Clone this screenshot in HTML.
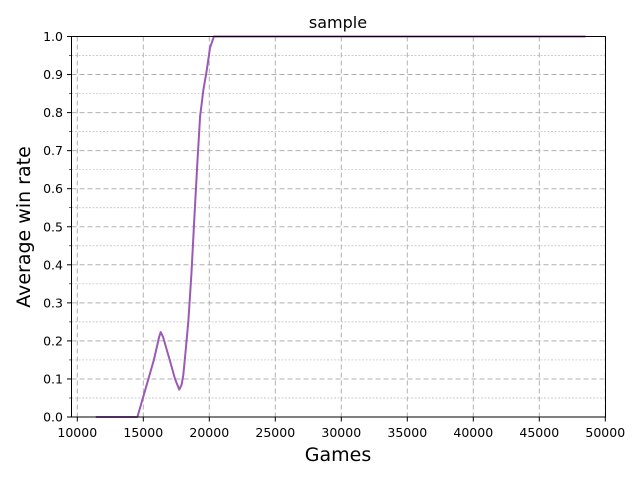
<!DOCTYPE html>
<html><head><meta charset="utf-8"><style>
body{margin:0;background:#fff}
svg{display:block;font-family:"DejaVu Sans","Liberation Sans",sans-serif}
</style></head><body>
<svg id="chart" width="640" height="480">
<rect width="640" height="480" fill="#fff"/>
<g id="grid"></g>
<g id="series"></g>
<rect x="71.5" y="36.5" width="534" height="380.5" fill="none" stroke="#000" stroke-width="1"/>
<g id="axes"></g>
<text x="338" y="28" text-anchor="middle" font-size="16">sample</text>
<text x="338" y="461" text-anchor="middle" font-size="19">Games</text>
<text transform="translate(30,227) rotate(-90)" text-anchor="middle" font-size="19">Average win rate</text>
</svg>
<script>
const games = [11400, 14550, 14800, 15300, 15800, 16200, 16320, 16500, 17000, 17400, 17730, 17900, 18030, 18200, 18410, 18650, 18860, 19100, 19300, 19550, 19800, 20050, 20350, 21000, 30000, 40000, 48500];
const winRate = [0, 0, 0.03, 0.09, 0.15, 0.21, 0.223, 0.21, 0.15, 0.1, 0.072, 0.085, 0.11, 0.17, 0.25, 0.38, 0.52, 0.67, 0.79, 0.86, 0.91, 0.97, 1.0, 1.0, 1.0, 1.0, 1.0];
const xTicks = [10000, 15000, 20000, 25000, 30000, 35000, 40000, 45000, 50000];
const yTicks = [0, 0.1, 0.2, 0.3, 0.4, 0.5, 0.6, 0.7, 0.8, 0.9, 1.0];
const yMinor = [0.05, 0.15, 0.25, 0.35, 0.45, 0.55, 0.65, 0.75, 0.85, 0.95];
const NS = "http://www.w3.org/2000/svg";
const xs = v => 77.3 + (v - 10000) * 528 / 40000;
const ys = v => 417 - v * 380.5;
function mk(tag, attrs, parent) {
  const e = document.createElementNS(NS, tag);
  for (const k in attrs) e.setAttribute(k, attrs[k]);
  parent.appendChild(e); return e;
}
const grid = document.getElementById('grid'), axes = document.getElementById('axes'), series = document.getElementById('series');
yMinor.forEach(v => {
  const l = mk('line', {x1: 71.5, x2: 605.5, y1: ys(v), y2: ys(v), stroke: '#bdbdbd', 'stroke-width': 0.7, 'stroke-dasharray': '2,1.5'}, grid);
  
  
  const t = mk('line', {x1: 69, x2: 71.5, y1: ys(v), y2: ys(v), stroke: '#000', 'stroke-width': 0.6}, axes);
  
  
});
yTicks.forEach(v => {
  const l = mk('line', {x1: 71.5, x2: 605.5, y1: ys(v), y2: ys(v), stroke: '#b0b0b0', 'stroke-width': 1, 'stroke-dasharray': '5,3'}, grid);
  
  
  const t = mk('line', {x1: 67, x2: 71.5, y1: ys(v), y2: ys(v), stroke: '#000', 'stroke-width': 1}, axes);
  
  
  const tx = mk('text', {x: 63, y: ys(v) + 4.5, 'text-anchor': 'end', 'font-size': 12.5}, axes);
  tx.textContent = v.toFixed(1);
  
  
});
xTicks.forEach(v => {
  const l = mk('line', {x1: xs(v), x2: xs(v), y1: 36.5, y2: 417, stroke: '#b0b0b0', 'stroke-width': 1, 'stroke-dasharray': '5,3'}, grid);
  
  
  const t = mk('line', {x1: xs(v), x2: xs(v), y1: 417, y2: 421.5, stroke: '#000', 'stroke-width': 1}, axes);
  
  
  const tx = mk('text', {x: xs(v), y: 437, 'text-anchor': 'middle', 'font-size': 12.5}, axes);
  tx.textContent = String(v);
  
  
});
const pts = games.map((g, i) => xs(g).toFixed(1) + ',' + ys(winRate[i]).toFixed(1)).join(' ');
const line = mk('polyline', {points: pts, fill: 'none', stroke: '#9b59b6', 'stroke-width': 2, 'stroke-linejoin': 'round'}, series);


</script>
</body></html>
